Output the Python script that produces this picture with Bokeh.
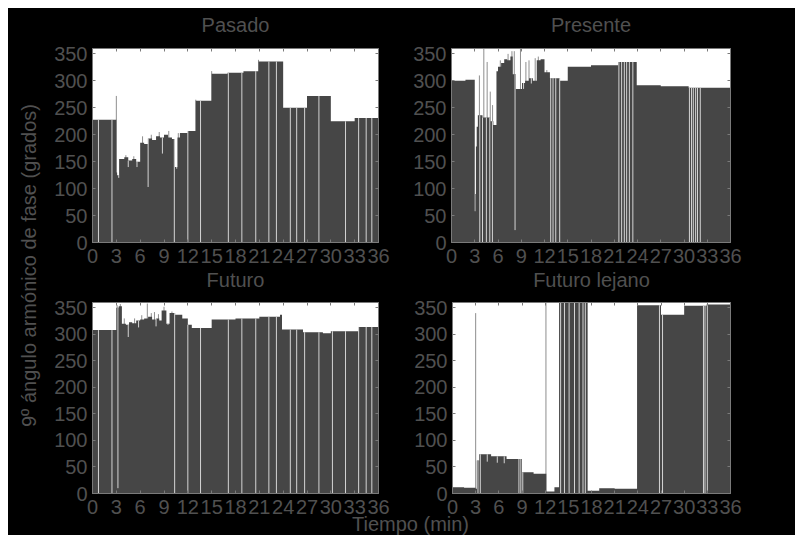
import math
from bisect import bisect_right
from bokeh.plotting import figure
from bokeh.layouts import row, column
from bokeh.models import (FixedTicker, LinearAxis, Range1d, CustomJSTickFormatter, Spacer,
                          GridBox)
from bokeh.embed import file_html
from bokeh.resources import INLINE
from bokeh.core.properties import value

# ------------------------------------------------------------------ data
x_ticks = [0, 3, 6, 9, 12, 15, 18, 21, 24, 27, 30, 33, 36]
y_ticks = [0, 50, 100, 150, 200, 250, 300, 350]
titles = ["Pasado", "Presente", "Futuro", "Futuro lejano"]
x_label = "Tiempo (min)"
y_label = "9º ángulo armónico de fase (grados)"

# Pasado: step series (start times + values), thin spikes, white gaps/dips
pas_t = [0, 3.0, 3.1, 3.35, 4.0, 4.5, 5.0, 5.5, 6.0, 6.5, 7.0, 7.5, 8.0, 8.5, 9.0, 9.5,
         10.0, 10.35, 10.7, 11.0, 12.0, 13.0, 15.0, 17.0, 19.0, 20.9, 24.0, 27.0, 30.0, 33.0, 36]
pas_v = [228, 130, 125, 155, 158, 152, 155, 150, 185, 183, 193, 190, 197, 195, 200, 195,
         192, 140, 195, 203, 207, 263, 313, 315, 318, 336, 250, 272, 225, 231]
pas_spk_t = [3.0, 4.2, 5.2, 6.3, 7.4, 8.4, 9.6, 10.8, 13.0, 15.0, 20.9]
pas_spk_v = [272, 162, 160, 197, 200, 205, 207, 203, 265, 318, 339]
pas_gap_t = [0.75, 2.45, 3.3, 4.5, 5.6, 7.0, 8.8, 10.3, 10.6, 12.0, 13.6, 17.1, 18.8, 20.55,
             22.2, 23.15, 24.9, 25.7, 26.7, 28.5, 31.85, 33.5, 34.45, 35.16]
pas_gap_v = [0, 0, 120, 140, 140, 103, 165, 0, 137, 0, 0, 0, 0, 0,
             0, 0, 0, 0, 0, 0, 0, 0, 0, 0]

# Presente
pre_t = [0, 1.8, 3.0, 3.08, 3.15, 3.25, 3.4, 4.0, 5.0, 5.4, 5.8, 6.0, 6.4, 6.8, 7.2, 7.6,
         7.9, 8.3, 9.1, 9.5, 10.0, 10.5, 11.0, 11.5, 12.0, 12.7, 14.0, 15.0, 18.0, 21.5,
         23.9, 27.0, 30.6, 36]
pre_v = [300, 302, 58, 90, 178, 215, 236, 232, 225, 218, 318, 326, 333, 340, 338, 345,
         312, 285, 296, 300, 305, 300, 338, 340, 316, 305, 300, 326, 329, 335,
         292, 290, 287]
pre_spk_t = [3.6, 4.17, 4.6, 5.0, 5.3, 6.3, 7.3, 7.8, 8.1, 8.9, 9.6, 10.0, 10.8, 11.2, 12.3]
pre_spk_v = [310, 360, 335, 280, 255, 338, 350, 355, 355, 360, 335, 338, 342, 345, 320]
pre_gap_t = [3.65, 4.0, 4.5, 4.94, 5.28, 8.2, 9.3, 10.3, 12.8, 13.1, 13.45, 13.96, 21.6, 21.95,
             22.3, 22.6, 22.95, 23.4, 30.7, 30.97, 31.2, 31.5, 31.74, 32.1]
pre_gap_v = [0, 0, 0, 0, 0, 23, 285, 295, 0, 0, 0, 0, 0, 0,
             0, 0, 0, 0, 0, 0, 0, 0, 0, 0]

# Futuro
fut_t = [0, 3.0, 3.3, 3.7, 4.2, 4.6, 5.0, 5.5, 6.0, 6.5, 7.0, 7.5, 8.0, 8.4, 8.7, 9.3,
         9.7, 10.4, 11.3, 12.0, 12.5, 15.0, 18.0, 21.0, 23.6, 23.85, 26.5, 29.0, 30.0, 33.5, 36]
fut_v = [308, 350, 353, 320, 318, 323, 321, 326, 328, 330, 333, 328, 330, 326, 345, 320,
         340, 337, 330, 318, 312, 328, 330, 333, 337, 309, 304, 302, 306, 314]
fut_spk_t = [3.1, 3.5, 4.0, 5.3, 6.2, 6.9, 7.4, 7.8, 8.3, 9.0, 10.0]
fut_spk_v = [355, 357, 330, 330, 336, 358, 340, 342, 338, 352, 343]
fut_gap_t = [0.75, 2.45, 3.2, 4.5, 5.8, 8.0, 9.5, 10.34, 12.0, 13.6, 17.1, 18.8, 20.55,
             22.2, 23.15, 24.9, 25.7, 26.7, 28.5, 30.2, 31.85, 33.5, 34.45, 35.16]
fut_gap_v = [0, 0, 10, 295, 313, 315, 318, 0, 0, 0, 0, 0, 0,
             0, 0, 0, 0, 0, 0, 0, 0, 0, 0, 0]

# Futuro lejano
lej_t = [0, 1.5, 3.0, 3.15, 3.45, 5.0, 7.0, 9.0, 10.5, 12.15, 13.2, 13.8, 17.5, 19.0,
         21.0, 23.9, 27.0, 30.0, 32.9, 36]
lej_v = [12, 11, 9, 62, 74, 70, 65, 40, 37, 4, 12, 360, 5, 10, 9, 355, 337, 354, 356]
lej_spk_t = [3.0, 12.1]
lej_spk_v = [340, 360]
lej_gap_t = [3.3, 3.6, 4.5, 5.8, 6.7, 8.6, 8.85, 9.1, 14.0, 14.5, 15.1, 15.8,
             16.4, 16.9, 17.2, 26.8, 27.2, 32.5, 32.7, 33.0]
lej_gap_v = [0, 0, 60, 58, 57, 0, 0, 0, 0, 0, 0, 0,
             0, 0, 0, 0, 0, 0, 0, 0]

# ------------------------------------------------------------------ style
FONT = "Liberation Sans"
TXT = "#505050"
BAR = "#464646"
SPK = "#8e8e8e"
GAP = "#d4d4d4"
AXC = "#7a7a7a"
YMAX = 360


def step_at(t, v, x):
    i = bisect_right(t, x) - 1
    return v[max(0, min(i, len(v) - 1))]


def panel(t, v, st, sv, gt, gv, width, height, bl, br, bt, bb):
    p = figure(width=width, height=height, output_backend="svg", toolbar_location=None,
               x_range=Range1d(0, 36), y_range=Range1d(0, YMAX),
               min_border_left=bl, min_border_right=br, min_border_top=bt,
               min_border_bottom=bb, background_fill_color="white",
               border_fill_color="black", outline_line_color=AXC)
    p.frame_align = False
    p.xgrid.visible = False
    p.ygrid.visible = False

    p.xaxis.ticker = FixedTicker(ticks=x_ticks)
    p.yaxis.ticker = FixedTicker(ticks=y_ticks)
    for ax in (p.xaxis[0], p.yaxis[0]):
        ax.major_label_text_font = FONT
        ax.major_label_text_font_size = "20px"
        ax.major_label_text_color = TXT
        ax.major_tick_in = 3
        ax.major_tick_out = 0
        ax.minor_tick_line_color = None
        ax.axis_line_color = AXC
        ax.major_tick_line_color = AXC
    p.xaxis.major_label_standoff = 6
    p.yaxis.major_label_standoff = 5

    for loc, tk in (("above", x_ticks), ("right", y_ticks)):
        ax = LinearAxis(ticker=FixedTicker(ticks=tk), major_tick_in=3, major_tick_out=0,
                        minor_tick_line_color=None, axis_line_color=AXC,
                        major_tick_line_color=AXC, major_label_standoff=0,
                        formatter=CustomJSTickFormatter(code="return ''"),
                        major_label_text_font_size="1px")
        p.add_layout(ax, loc)

    tx = list(t)
    vx = list(v) + [v[-1]]
    top = [step_at(t, v, g) for g in gt]
    p.segment(x0=st, y0=[0] * len(st), x1=st, y1=sv, line_color=SPK, line_width=1)
    p.varea_step(x=tx, y1=[0] * len(tx), y2=vx, step_mode="after", fill_color=BAR)
    p.segment(x0=gt, y0=gv, x1=gt, y1=top, line_color=GAP, line_width=1)
    return p


tl = panel(pas_t, pas_v, pas_spk_t, pas_spk_v, pas_gap_t, pas_gap_v, 352, 263, 44, 22, 40, 29)
tr = panel(pre_t, pre_v, pre_spk_t, pre_spk_v, pre_gap_t, pre_gap_v, 395, 263, 51, 65, 40, 29)
bl = panel(fut_t, fut_v, fut_spk_t, fut_spk_v, fut_gap_t, fut_gap_v, 352, 251, 44, 22, 31, 29)
br = panel(lej_t, lej_v, lej_spk_t, lej_spk_v, lej_gap_t, lej_gap_v, 395, 251, 52, 65, 31, 29)

# transparent overlay that carries the shared axis labels and the panel titles
W, H = 787, 527
ov = figure(width=W, height=H, output_backend="svg", toolbar_location=None,
            x_range=Range1d(0, W), y_range=Range1d(0, H), x_axis_type=None,
            y_axis_type=None, min_border=0, background_fill_alpha=0.0,
            border_fill_alpha=0.0, outline_line_color=None)
ov.frame_align = False
ov.xgrid.visible = False
ov.ygrid.visible = False
txt_kw = dict(text_font=value(FONT), text_font_size="20px", text_color=TXT,
              text_baseline="middle", text_align="center")
ov.text(x=[20], y=[270], text=[y_label], angle=math.pi / 2, **txt_kw)
ov.text(x=[402], y=[12], text=[x_label], **txt_kw)
ov.text(x=[227, 582.5, 227, 583], y=[511, 511, 256, 256], text=titles, **txt_kw)

BG = {"background-color": "black"}
grid = GridBox(children=[(tl, 0, 1), (tr, 0, 2), (bl, 1, 1), (br, 1, 2), (ov, 0, 0, 3, 3)],
               rows=["263px", "251px", "13px"], cols=["40px", "352px", "395px"],
               styles=BG)
layout = column(Spacer(height=8), row(Spacer(width=8), grid))

open("out.html", "w").write(file_html(layout, INLINE))
